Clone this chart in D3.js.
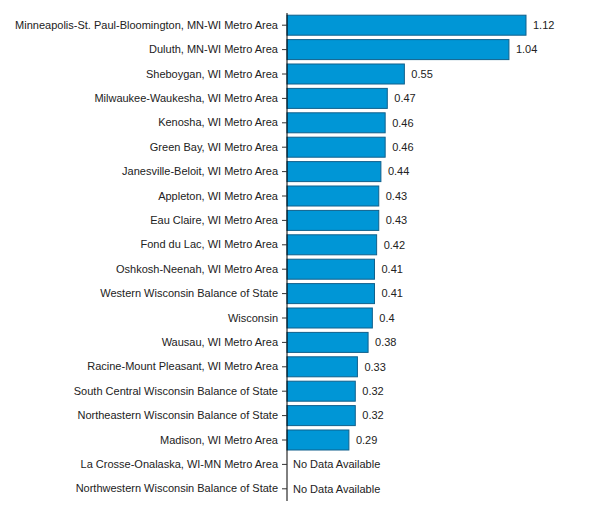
<!DOCTYPE html>
<html><head><meta charset="utf-8">
<script src="https://cdn.jsdelivr.net/npm/d3@7"></script>
<style>body{margin:0;background:#fff}svg{display:block}text{font-family:"Liberation Sans",Arial,sans-serif}</style>
</head><body>
<svg id="c" width="600" height="520"></svg>
<script>
const categories = [
  "Minneapolis-St. Paul-Bloomington, MN-WI Metro Area",
  "Duluth, MN-WI Metro Area",
  "Sheboygan, WI Metro Area",
  "Milwaukee-Waukesha, WI Metro Area",
  "Kenosha, WI Metro Area",
  "Green Bay, WI Metro Area",
  "Janesville-Beloit, WI Metro Area",
  "Appleton, WI Metro Area",
  "Eau Claire, WI Metro Area",
  "Fond du Lac, WI Metro Area",
  "Oshkosh-Neenah, WI Metro Area",
  "Western Wisconsin Balance of State",
  "Wisconsin",
  "Wausau, WI Metro Area",
  "Racine-Mount Pleasant, WI Metro Area",
  "South Central Wisconsin Balance of State",
  "Northeastern Wisconsin Balance of State",
  "Madison, WI Metro Area",
  "La Crosse-Onalaska, WI-MN Metro Area",
  "Northwestern Wisconsin Balance of State"
];
const values = [1.12, 1.04, 0.55, 0.47, 0.46, 0.46, 0.44, 0.43, 0.43, 0.42, 0.41, 0.41, 0.4, 0.38, 0.33, 0.32, 0.32, 0.29, null, null];
const noDataLabel = "No Data Available";

const svg = d3.select("#c");
const x0 = 287, x1 = 526, yTop = 13, yBot = 501;
const x = d3.scaleLinear().domain([0, 1.12]).range([x0, x1]);
const y = d3.scaleBand().domain(categories).range([yTop, yBot]).paddingInner(0.18).paddingOuter(0.09);

const data = categories.map((c, i) => ({c, v: values[i]}));

svg.selectAll("rect.bar").data(data.filter(d => d.v != null)).join("rect")
  .attr("class", "bar")
  .attr("x", x(0))
  .attr("y", d => y(d.c))
  .attr("width", d => x(d.v) - x(0))
  .attr("height", y.bandwidth())
  .attr("fill", "#0096d6")
  .attr("stroke", "#10608c")
  .attr("stroke-width", 1);

svg.selectAll("text.val").data(data).join("text")
  .attr("class", "val")
  .attr("x", d => d.v != null ? x(d.v) + 7 : x(0) + 6)
  .attr("y", d => y(d.c) + y.bandwidth() / 2)
  .attr("dy", "0.35em")
  .attr("font-size", 11)
  .attr("fill", "#222")
  .text(d => d.v != null ? String(d.v) : noDataLabel);

const ax = svg.append("g").attr("transform", `translate(${x0},0)`)
  .call(d3.axisLeft(y).tickSize(5).tickPadding(4));
ax.select(".domain").attr("d", `M0,${yTop}V${yBot}`).attr("stroke", "#000");
ax.selectAll(".tick line").attr("stroke", "#333");
ax.selectAll(".tick text").attr("font-size", 11).attr("fill", "#222")
  .attr("font-family", '"Liberation Sans",Arial,sans-serif');
</script>
</body></html>
